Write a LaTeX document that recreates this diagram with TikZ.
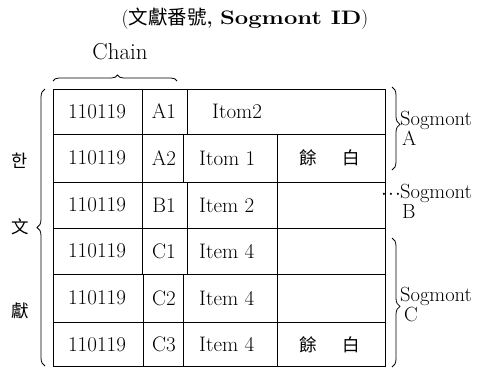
\documentclass[tikz,border=0pt]{standalone}
\usepackage{fontspec}
\usepackage{graphicx}
\newfontfamily\cjk{Noto Sans CJK TC}
\newfontfamily\kor{Noto Sans CJK KR}
\usetikzlibrary{decorations.pathreplacing}
\begin{document}
\begin{tikzpicture}[x=1pt,y=-1pt,
  txt/.style={inner sep=0pt,font=\fontsize{21}{23}\selectfont},
  cj/.style={inner sep=0pt,font=\fontsize{17.5}{19}\selectfont\cjk},
  lab/.style={inner sep=0pt,anchor=north west,align=left,font=\fontsize{20.5}{21}\selectfont},
  rule/.style={line width=0.8pt},
  brc/.style={line width=0.8pt,decorate,decoration={brace,amplitude=#1}},
  brc/.default=7]
\useasboundingbox (0,0) rectangle (499,368);
% title
\node[inner sep=0pt] (title) at (245,19) {\fontsize{19.5}{21}\selectfont(\cjk 文獻番號\rmfamily\bfseries, \scalebox{1.22}[1]{Sogmont ID}\mdseries)};
\node[txt,font=\fontsize{23}{25}\selectfont] (chain) at (120,52) {Chain};
% table corners and row lines
\coordinate (tl) at (53,89);
\coordinate (tr) at (385,89);
\coordinate (bl) at (53,366);
\coordinate (br) at (385,366);
\draw[rule] (tl) rectangle (br);
\foreach \y [count=\i] in {134,182,228,274,322}{
  \coordinate (ra\i) at (53,\y);
  \coordinate (rb\i) at (385,\y);
  \draw[rule] (ra\i) -- (rb\i);
}
% column dividers per row: top, bottom, first, second, third(or none)
\foreach \t/\b/\p/\q/\r in {89/134/142/187/0,134/182/142/183/277,182/228/142/187/277,228/274/142/187/277,274/322/143/183/277,322/366/143/183/277}{
  \draw[rule] (\p,\t) -- (\p,\b);
  \draw[rule] (\q,\t) -- (\q,\b);
  \ifnum\r>0 \draw[rule] (\r,\t) -- (\r,\b); \fi
}
% cells
\foreach \y/\s [count=\i] in {111.5/A1,158/A2,205/B1,251/C1,298/C2,344.5/C3}{
  \node[txt] (id\i) at (97,\y) {110119};
  \node[txt] (sg\i) at (164,\y) {\s};
}
\node[txt,anchor=west] (it1) at (212,111.5) {Itom2};
\node[txt,anchor=west] (it2) at (199,158) {Itom 1};
\node[txt,anchor=west] (it3) at (199,205) {Item 2};
\node[txt,anchor=west] (it4) at (199,251) {Item 4};
\node[txt,anchor=west] (it5) at (199,298) {Item 4};
\node[txt,anchor=west] (it6) at (199,344.5) {Item 4};
\node[cj] (yb2) at (330,158) {餘\hspace{26pt}白};
\node[cj] (yb6) at (330,344.5) {餘\hspace{26pt}白};
% left labels
\node[inner sep=0pt,font=\fontsize{17.5}{19}\selectfont\kor] (han) at (20,161) {한};
\node[cj] (mun) at (20,227) {文};
\node[cj] (hun) at (20,311) {獻};
% braces
\draw[brc=8] (45,366) -- (45,89);
\draw[brc=6,decoration={aspect=0.52}] (53,81) -- (177,81);
\draw[brc=8,decoration={aspect=0.45}] (392,87) -- (392,170);
\draw[brc=8,decoration={aspect=0.53}] (392,238) -- (392,367);
% right labels
\node[lab] (sa) at (400,111) {Sogmont\\[-1pt]\hspace{2pt}A};
\node[inner sep=0pt,anchor=base east] (dots) at (401,199) {\fontsize{20}{20}\selectfont$\cdot\!\cdot\!\cdot$};
\node[lab] (sb) at (400,184) {Sogmont\\[-1pt]\hspace{2pt}B};
\node[lab] (sc) at (400,287) {Sogmont\\[-1pt]\hspace{4pt}C};
\end{tikzpicture}
\end{document}
